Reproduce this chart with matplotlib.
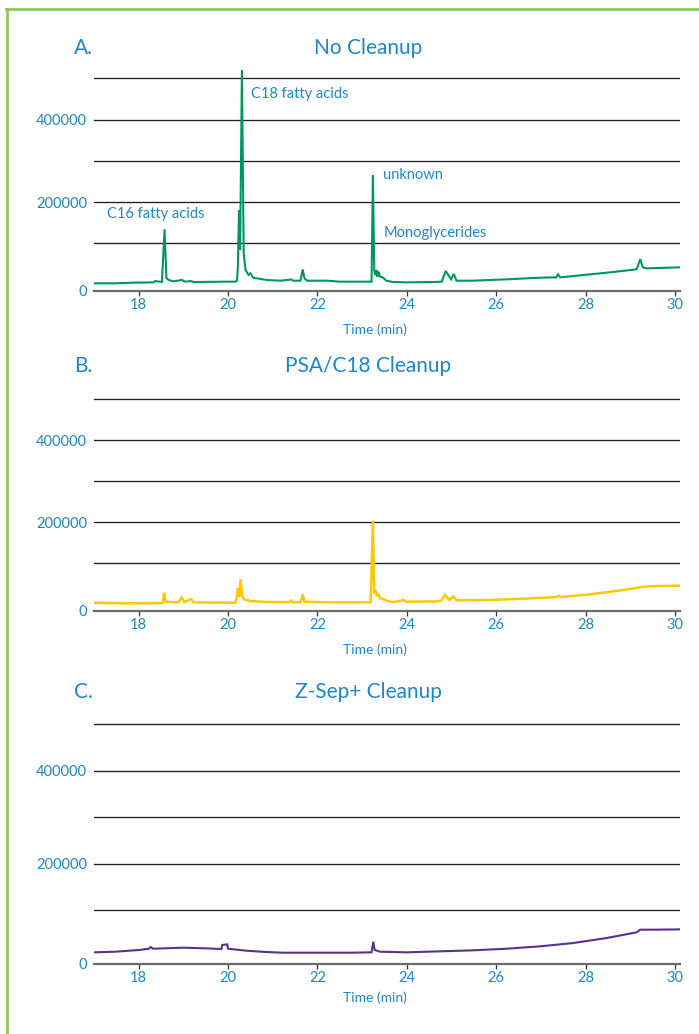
import matplotlib
matplotlib.use("Agg")
import matplotlib.pyplot as plt
from matplotlib.lines import Line2D

plt.rcParams['font.family'] = ['Lato', 'DejaVu Sans']

# ---------------- data ----------------
x_ticks = [18, 20, 22, 24, 26, 28, 30]
grid_values = [100000, 200000, 300000, 400000, 500000]
y_tick_labels = ['0', '200000', '400000']
y_tick_values = [0, 200000, 400000]

panel_letters = ['A.', 'B.', 'C.']
panel_titles = ['No Cleanup', 'PSA/C18 Cleanup', 'Z-Sep+ Cleanup']
x_label = 'Time (min)'

# Panel A: No Cleanup
a_time = [16.99, 17.44, 17.89, 18.34, 18.37, 18.52, 18.58, 18.62, 18.67, 18.78,
          18.97, 19.04, 19.17, 19.23, 19.98, 20.16, 20.20, 20.22, 20.245, 20.27,
          20.31, 20.35, 20.39, 20.46, 20.50, 20.56, 20.65, 20.87, 21.17, 21.41,
          21.46, 21.62, 21.67, 21.71, 21.77, 22.22, 22.50, 23.21, 23.24, 23.27,
          23.29, 23.32, 23.34, 23.37, 23.40, 23.46, 23.54, 23.69, 23.99, 24.59,
          24.78, 24.87, 24.99, 25.05, 25.11, 25.49, 26.23, 26.98, 27.34, 27.38,
          27.43, 27.72, 28.47, 29.14, 29.22, 29.28, 29.37, 30.11]
a_signal = [3100, 3100, 4700, 5500, 8700, 6300, 134000, 16800, 11100, 8000,
            11100, 7100, 8700, 6300, 7100, 7100, 9500, 43400, 180800, 83900,
            520000, 75800, 35400, 23300, 27300, 16800, 15200, 11100, 9500, 12400,
            9500, 9500, 36600, 15200, 9500, 9500, 7100, 7100, 265700, 35400,
            23300, 35400, 19200, 31300, 19200, 17600, 9500, 6300, 5500, 6300,
            7100, 33000, 12800, 25700, 9500, 9500, 12800, 16800, 17600, 24900,
            17600, 20800, 28900, 37000, 61300, 41900, 39400, 41900]

# Panel B: PSA/C18 Cleanup
b_time = [16.99, 17.74, 18.49, 18.54, 18.57, 18.60, 18.89, 18.96, 19.02, 19.17,
          19.23, 20.16, 20.20, 20.22, 20.25, 20.28, 20.32, 20.36, 20.50, 20.87,
          21.38, 21.41, 21.44, 21.62, 21.67, 21.71, 22.22, 23.19, 23.24, 23.27,
          23.30, 23.33, 23.36, 23.40, 23.46, 23.56, 23.71, 23.93, 23.98, 24.66,
          24.77, 24.85, 24.95, 25.04, 25.11, 25.86, 26.60, 27.35, 27.39, 27.44,
          28.09, 28.84, 29.21, 29.29, 29.59, 30.11]
b_signal = [4000, 2400, 3200, 4000, 28400, 6400, 4800, 17100, 5600, 12900,
            4900, 4000, 18600, 39000, 18600, 61000, 18600, 12200, 8100, 5600,
            5600, 8900, 5600, 4900, 24400, 6400, 4900, 4900, 204000, 26800,
            33300, 20300, 26800, 14600, 13800, 8100, 5600, 10500, 6400, 7200,
            8900, 23500, 10500, 19500, 9800, 10500, 13700, 17800, 21000, 17800,
            24400, 34900, 41500, 43000, 44700, 45500]

# Panel C: Z-Sep+ Cleanup
c_time = [16.99, 17.48, 18.00, 18.23, 18.27, 18.32, 18.99, 19.51, 19.85, 19.87,
          19.98, 20.00, 20.41, 20.86, 21.23, 22.72, 23.21, 23.25, 23.28, 23.40,
          23.99, 25.48, 26.23, 26.98, 27.72, 28.47, 29.14, 29.22, 29.59, 30.11]
c_signal = [9000, 10400, 14000, 16800, 20400, 16800, 19000, 17600, 16100, 24700,
            26200, 16800, 12500, 9700, 8200, 8200, 9000, 31900, 14000, 10400,
            9000, 13300, 16800, 21900, 29000, 39800, 52000, 57700, 57700, 58400]

traces = [(a_time, a_signal), (b_time, b_signal), (c_time, c_signal)]
trace_colors = ['#00985a', '#ffc800', '#56328f']

annotations_a = [
    ('C18 fatty acids', 251, 98),
    ('C16 fatty acids', 107, 218),
    ('unknown', 383, 179),
    ('Monoglycerides', 384, 236.5),
]

# ---------------- layout ----------------
W, H = 699, 1034
DPI = 100
fig = plt.figure(figsize=(W / DPI, H / DPI), dpi=DPI)

BLUE = '#1e87c8'
XLIM = (16.99, 30.11)
YLIM = (-15000, 520000)

# axes boxes in pixels: (left, top, right, bottom)
boxes = [(93.5, 70.1, 680, 290.8), (93.5, 391.1, 680, 610.5), (93.5, 714.7, 680, 963.5)]
title_y = [53.5, 372.5, 698.5]
xlabel_y = [334, 653.5, 1002.5]

def fx(px):
    return px / W

def fy(py):
    return 1 - py / H

for i, (l, t, r, b) in enumerate(boxes):
    ax = fig.add_axes([fx(l), fy(b), (r - l) / W, (b - t) / H])
    ax.set_xlim(*XLIM)
    ax.set_ylim(*YLIM)
    for gv in grid_values:
        ax.axhline(gv, color='#1f1f1f', lw=0.95, zorder=1)
    tx, ty = traces[i]
    ax.plot(tx, ty, color=trace_colors[i], lw=1.5 if i != 1 else 1.8,
            solid_joinstyle='miter', zorder=3, clip_on=True)
    for s in ['top', 'right', 'left']:
        ax.spines[s].set_visible(False)
    ax.spines['bottom'].set_color('#6b6b6b')
    ax.spines['bottom'].set_linewidth(1.6)
    ax.spines['bottom'].set_zorder(4)
    ax.set_xticks(x_ticks)
    ax.set_xticklabels([str(v) for v in x_ticks])
    ax.tick_params(axis='x', length=3.6, width=0.9, color='#333333', pad=1.5,
                   labelsize=10.5, labelcolor=BLUE, direction='out')
    yt = [YLIM[0] if v == 0 else v for v in y_tick_values]
    ax.set_yticks(yt)
    ax.set_yticklabels(y_tick_labels)
    ax.tick_params(axis='y', length=0, pad=4.8, labelsize=10.5, labelcolor=BLUE)
    ax.patch.set_visible(False)

    fig.text(fx(83), fy(title_y[i]), panel_letters[i], fontsize=15, color=BLUE,
             ha='center', va='baseline')
    fig.text(fx(368), fy(title_y[i]), panel_titles[i], fontsize=15, color=BLUE,
             ha='center', va='baseline')
    fig.text(fx(375), fy(xlabel_y[i]), x_label, fontsize=10, color=BLUE,
             ha='center', va='baseline')

for txt, px, py in annotations_a:
    fig.text(fx(px), fy(py), txt, fontsize=10.5, color=BLUE, ha='left', va='baseline')

# green frame
border_color = '#8cc751'
fig.add_artist(Line2D([fx(7), fx(7)], [0, fy(8.6)], color=border_color, lw=1.9,
                      transform=fig.transFigure))
fig.add_artist(Line2D([fx(6.3), 1], [fy(8.6), fy(8.6)], color=border_color, lw=1.9,
                      transform=fig.transFigure))

fig.savefig('out.png', dpi=DPI)
